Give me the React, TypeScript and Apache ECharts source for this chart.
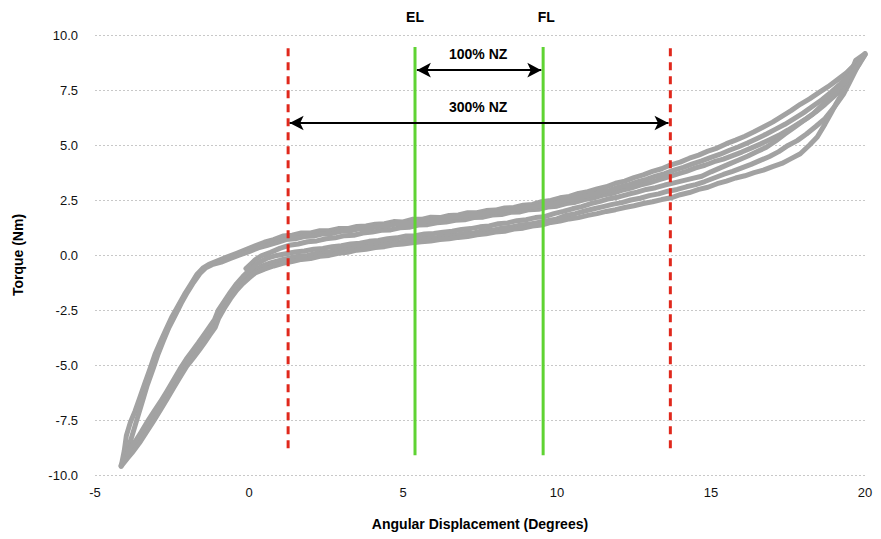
import React, { useEffect, useRef } from "react";
import * as echarts from "echarts";

const FONT = "Liberation Sans, Arial, Helvetica, sans-serif";

const xTicks = { min: -5, max: 20, interval: 5 };
const yTicks = { min: -10, max: 10, interval: 2.5 };

const elX = 5.39;
const flX = 9.55;
const nz300Left = 1.27;
const nz300Right = 13.68;

// Loading branches (moving right)
const up1: number[][] = [
  [-4.15,-9.6],[-4.05,-8.9],[-3.98,-8.2],[-3.85,-7.6],[-3.7,-7.1],[-3.55,-6.5],[-3.4,-5.9],[-3.22,-5.2],[-3.05,-4.5],[-2.88,-3.95],[-2.7,-3.4],[-2.5,-2.8],[-2.3,-2.3],[-2.1,-1.8],[-1.9,-1.35],[-1.7,-0.9],[-1.5,-0.6],[-1.3,-0.42],[-1.0,-0.25],[-0.7,-0.08],[-0.4,0.08],[-0.1,0.25],[0.2,0.42],[0.5,0.58],[0.8,0.7],[1.1,0.86],[1.4,0.9],[1.7,1.0],[2.0,1.0],[2.3,1.1],[2.6,1.1],[2.9,1.2],[3.2,1.2],[3.5,1.3],[3.8,1.32],[4.1,1.4],[4.4,1.42],[4.7,1.52],[5.0,1.5],[5.3,1.62],[5.6,1.62],[5.9,1.72],[6.2,1.7],[6.5,1.8],[6.8,1.82],[7.1,1.92],[7.4,1.92],[7.7,2.02],[8.0,2.04],[8.3,2.14],[8.6,2.16],[8.9,2.26],[9.2,2.3],[9.5,2.42],[9.8,2.48],[10.1,2.6],[10.4,2.66],[10.7,2.8],[11.0,2.88],[11.3,3.0],[11.6,3.1],[11.9,3.26],[12.2,3.36],[12.5,3.52],[12.8,3.64],[13.1,3.8],[13.4,3.92],[13.7,4.1],[14.0,4.22],[14.3,4.4],[14.6,4.54],[14.9,4.72],[15.2,4.86],[15.5,5.06],[15.8,5.22],[16.1,5.4],[16.4,5.6],[16.7,5.82],[17.0,6.04],[17.3,6.3],[17.6,6.56],[17.9,6.85],[18.2,7.1],[18.5,7.38],[18.8,7.65],[19.1,7.96],[19.4,8.28],[19.7,8.7],[20.0,9.15]
];

const up2: number[][] = [
  [-3.95,-9.05],[-3.88,-8.6],[-3.75,-8.0],[-3.6,-7.3],[-3.45,-6.6],[-3.3,-5.9],[-3.12,-5.2],[-2.95,-4.5],[-2.78,-3.9],[-2.6,-3.3],[-2.4,-2.75],[-2.2,-2.2],[-2.0,-1.7],[-1.8,-1.25],[-1.6,-0.85],[-1.4,-0.58],[-1.2,-0.44],[-0.9,-0.32],[-0.6,-0.16],[-0.3,0.0],[0.0,0.15],[0.3,0.32],[0.6,0.44],[0.9,0.56],[1.2,0.7],[1.5,0.74],[1.8,0.84],[2.1,0.86],[2.4,0.96],[2.7,0.98],[3.0,1.08],[3.3,1.1],[3.6,1.2],[3.9,1.2],[4.2,1.3],[4.5,1.32],[4.8,1.42],[5.1,1.42],[5.4,1.5],[5.7,1.52],[6.0,1.62],[6.3,1.62],[6.6,1.72],[6.9,1.74],[7.2,1.84],[7.5,1.84],[7.8,1.94],[8.1,1.96],[8.4,2.06],[8.7,2.08],[9.0,2.18],[9.3,2.2],[9.6,2.3],[9.9,2.34],[10.2,2.46],[10.5,2.52],[10.8,2.64],[11.1,2.72],[11.4,2.84],[11.7,2.94],[12.0,3.08],[12.3,3.18],[12.6,3.32],[12.9,3.44],[13.2,3.58],[13.5,3.7],[13.8,3.86],[14.1,3.98],[14.4,4.14],[14.7,4.28],[15.0,4.44],[15.3,4.58],[15.6,4.76],[15.9,4.92],[16.2,5.1],[16.5,5.3],[16.8,5.5],[17.1,5.72],[17.4,5.94],[17.7,6.2],[18.0,6.46],[18.3,6.76],[18.6,7.06],[18.9,7.4],[19.2,7.78],[19.5,8.22],[19.75,8.66],[19.95,9.05]
];

const up3: number[][] = [
  [-0.1,-0.62],[0.05,-0.42],[0.2,-0.22],[0.4,-0.04],[0.7,0.12],[1.0,0.3],[1.3,0.44],[1.6,0.5],[1.9,0.6],[2.2,0.64],[2.5,0.74],[2.8,0.78],[3.1,0.88],[3.4,0.9],[3.7,1.0],[4.0,1.04],[4.3,1.12],[4.6,1.14],[4.9,1.24],[5.2,1.26],[5.5,1.36],[5.8,1.38],[6.1,1.46],[6.4,1.5],[6.7,1.58],[7.0,1.6],[7.3,1.7],[7.6,1.72],[7.9,1.82],[8.2,1.84],[8.5,1.94],[8.8,1.96],[9.1,2.06],[9.4,2.08],[9.7,2.18],[10.0,2.22],[10.3,2.34],[10.6,2.4],[10.9,2.52],[11.2,2.6],[11.5,2.72],[11.8,2.8],[12.1,2.94],[12.4,3.04],[12.7,3.18],[13.0,3.28],[13.3,3.42],[13.6,3.54],[13.9,3.68],[14.2,3.8],[14.5,3.96],[14.8,4.08],[15.1,4.24],[15.4,4.36],[15.7,4.52],[16.0,4.68],[16.3,4.86],[16.6,5.04],[16.9,5.24],[17.2,5.44],[17.5,5.68],[17.8,5.94],[18.1,6.2],[18.4,6.5],[18.7,6.84],[19.0,7.22],[19.3,7.66],[19.55,8.14],[19.8,8.64],[20.0,9.1]
];

// Unloading branches (moving left)
const down1: number[][] = [
  [20.0,9.15],[19.85,9.0],[19.7,8.85],[19.6,8.5],[19.5,8.2],[19.35,7.7],[19.2,7.2],[19.05,6.85],[18.9,6.45],[18.7,5.95],[18.45,5.36],[18.2,5.0],[17.9,4.6],[17.6,4.38],[17.3,4.16],[17.0,4.02],[16.7,3.86],[16.4,3.74],[16.1,3.6],[15.8,3.5],[15.5,3.36],[15.2,3.24],[14.9,3.08],[14.6,2.98],[14.3,2.84],[14.0,2.74],[13.7,2.6],[13.4,2.52],[13.1,2.42],[12.8,2.34],[12.5,2.24],[12.2,2.16],[11.9,2.06],[11.6,1.98],[11.3,1.88],[11.0,1.8],[10.7,1.7],[10.4,1.64],[10.1,1.54],[9.8,1.48],[9.5,1.36],[9.2,1.32],[8.9,1.22],[8.6,1.18],[8.3,1.08],[8.0,1.04],[7.7,0.96],[7.4,0.92],[7.1,0.84],[6.8,0.8],[6.5,0.74],[6.2,0.7],[5.9,0.64],[5.6,0.6],[5.3,0.56],[5.0,0.5],[4.7,0.46],[4.4,0.38],[4.1,0.34],[3.8,0.26],[3.5,0.22],[3.2,0.12],[2.9,0.08],[2.6,-0.02],[2.3,-0.06],[2.0,-0.16],[1.7,-0.2],[1.4,-0.3],[1.1,-0.38],[0.8,-0.5],[0.5,-0.64],[0.2,-0.82],[0.0,-1.05],[-0.2,-1.3],[-0.4,-1.6],[-0.6,-1.98],[-0.8,-2.42],[-0.98,-2.86],[-1.1,-3.3],[-1.28,-3.65],[-1.45,-4.0],[-1.63,-4.35],[-1.82,-4.7],[-2.02,-5.05],[-2.24,-5.55],[-2.45,-6.05],[-2.66,-6.55],[-2.88,-7.05],[-3.1,-7.55],[-3.33,-8.05],[-3.56,-8.55],[-3.8,-9.0],[-3.95,-9.25],[-4.15,-9.6]
];

const down2: number[][] = [
  [19.95,9.05],[19.75,8.6],[19.5,8.15],[19.3,7.8],[19.0,7.35],[18.6,6.8],[18.3,6.4],[18.0,6.1],[17.7,5.8],[17.4,5.5],[17.1,5.18],[16.8,4.9],[16.5,4.7],[16.2,4.5],[15.9,4.32],[15.6,4.14],[15.3,3.96],[15.0,3.78],[14.7,3.58],[14.4,3.48],[14.1,3.38],[13.8,3.28],[13.5,3.18],[13.2,3.06],[12.9,2.98],[12.6,2.86],[12.3,2.76],[12.0,2.64],[11.7,2.56],[11.4,2.44],[11.1,2.34],[10.8,2.2],[10.5,2.1],[10.2,1.98],[9.9,1.88],[9.6,1.74],[9.3,1.7],[9.0,1.6],[8.7,1.56],[8.4,1.46],[8.1,1.42],[7.8,1.32],[7.5,1.28],[7.2,1.2],[6.9,1.16],[6.6,1.08],[6.3,1.04],[6.0,0.98],[5.7,0.96],[5.4,0.88],[5.1,0.86],[4.8,0.78],[4.5,0.74],[4.2,0.66],[3.9,0.62],[3.6,0.54],[3.3,0.5],[3.0,0.42],[2.7,0.38],[2.4,0.3],[2.1,0.26],[1.8,0.18],[1.5,0.14],[1.2,0.06],[0.9,-0.02],[0.6,-0.14],[0.3,-0.36],[0.0,-0.7],[-0.2,-0.98],[-0.4,-1.3],[-0.6,-1.68],[-0.8,-2.1],[-1.0,-2.52],[-1.12,-2.94],[-1.3,-3.3],[-1.47,-3.64],[-1.65,-4.0],[-1.84,-4.36],[-2.04,-4.74],[-2.25,-5.2],[-2.46,-5.7],[-2.67,-6.2],[-2.88,-6.68],[-3.1,-7.14],[-3.32,-7.62],[-3.5,-8.05],[-3.67,-8.42],[-3.85,-8.75],[-3.95,-9.05]
];

const down3: number[][] = [
  [20.0,9.1],[19.85,8.8],[19.7,8.4],[19.5,7.85],[19.3,7.3],[19.0,6.72],[18.7,6.2],[18.4,5.84],[18.1,5.5],[17.8,5.2],[17.5,4.98],[17.2,4.7],[16.9,4.48],[16.6,4.3],[16.3,4.12],[16.0,3.96],[15.7,3.8],[15.4,3.66],[15.1,3.5],[14.8,3.34],[14.5,3.2],[14.2,3.1],[13.9,2.98],[13.6,2.9],[13.3,2.78],[13.0,2.7],[12.7,2.58],[12.4,2.5],[12.1,2.38],[11.8,2.3],[11.5,2.2],[11.2,2.1],[10.9,2.0],[10.6,1.88],[10.3,1.8],[10.0,1.64],[9.7,1.56],[9.4,1.48],[9.1,1.4],[8.8,1.36],[8.5,1.26],[8.2,1.22],[7.9,1.12],[7.6,1.1],[7.3,1.0],[7.0,0.98],[6.7,0.9],[6.4,0.88],[6.1,0.8],[5.8,0.78],[5.5,0.72],[5.2,0.68],[4.9,0.6],[4.6,0.58],[4.3,0.5],[4.0,0.46],[3.7,0.38],[3.4,0.34],[3.1,0.26],[2.8,0.2],[2.5,0.12],[2.2,0.08],[1.9,-0.02],[1.6,-0.06],[1.3,-0.14],[1.0,-0.24],[0.7,-0.36],[0.4,-0.52],[0.15,-0.7],[-0.05,-0.88],[-0.25,-1.14],[-0.45,-1.46],[-0.65,-1.86],[-0.85,-2.3],[-1.02,-2.76],[-1.15,-3.2],[-1.32,-3.56],[-1.5,-3.92],[-1.69,-4.26],[-1.88,-4.62],[-2.08,-4.98],[-2.29,-5.46],[-2.5,-5.96],[-2.71,-6.44],[-2.93,-6.94],[-3.15,-7.42],[-3.38,-7.92],[-3.6,-8.42],[-3.85,-8.9],[-4.0,-9.2],[-4.15,-9.55]
];

const branches = [up3, down3, up1, down1, up2, down2];

const redLineY = [9.4, -9.0];
const greenLineY = [9.45, -9.1];

const arrow100Y = 8.4;
const arrow300Y = 6.0;
const arrow100X = [5.45, 9.49];
const arrow300X = [1.32, 13.62];

const textLabels = [
  { name: "EL", value: [5.39, 10.82] },
  { name: "FL", value: [9.65, 10.82] },
  { name: "100% NZ", value: [7.44, 9.14] },
  { name: "300% NZ", value: [7.44, 6.73] },
];

const GRAY = "#a2a2a2";
const RED = "#e0281c";
const GREEN = "#5fd333";

export default function App() {
  const ref = useRef<HTMLDivElement>(null);

  useEffect(() => {
    if (!ref.current) return;
    const chart = echarts.init(ref.current, undefined, { renderer: "svg" });

    const grayCurves = branches.map((d) => ({
      type: "line",
      data: d,
      showSymbol: false,
      symbol: "none",
      smooth: false,
      silent: true,
      z: 2,
      lineStyle: { color: GRAY, width: 5, join: "round", cap: "round" },
    }));

    const vLine = (x: number, ys: number[], color: string, dashed: boolean) => ({
      type: "line",
      data: [[x, ys[0]], [x, ys[1]]],
      showSymbol: false,
      symbol: "none",
      silent: true,
      z: 3,
      lineStyle: { color, width: 3, type: dashed ? [8, 6] : "solid", cap: "butt" },
    });

    chart.setOption({
      animation: false,
      textStyle: { fontFamily: FONT },
      grid: { left: 95, right: 16, top: 35, bottom: 64, containLabel: false },
      xAxis: {
        type: "value",
        min: xTicks.min,
        max: xTicks.max,
        interval: xTicks.interval,
        name: "Angular Displacement (Degrees)",
        nameLocation: "middle",
        nameGap: 42,
        nameTextStyle: { fontFamily: FONT, fontSize: 14, fontWeight: "bold", color: "#000" },
        axisLine: { show: false, onZero: false },
        axisTick: { show: false },
        splitLine: { show: false },
        axisLabel: { fontFamily: FONT, fontSize: 13, color: "#111", margin: 11 },
      },
      yAxis: {
        type: "value",
        min: yTicks.min,
        max: yTicks.max,
        interval: yTicks.interval,
        name: "Torque (Nm)",
        nameLocation: "middle",
        nameGap: 70,
        nameRotate: 90,
        nameTextStyle: { fontFamily: FONT, fontSize: 14, fontWeight: "bold", color: "#000" },
        axisLine: { show: false, onZero: false },
        axisTick: { show: false },
        splitLine: { show: true, lineStyle: { color: "#c8c8c8", width: 1, type: [2, 2] } },
        axisLabel: {
          fontFamily: FONT,
          fontSize: 13,
          color: "#111",
          margin: 17,
          formatter: (v: number) => v.toFixed(1),
        },
      },
      series: [
        ...grayCurves,
        vLine(nz300Left, redLineY, RED, true),
        vLine(nz300Right, redLineY, RED, true),
        vLine(elX, greenLineY, GREEN, false),
        vLine(flX, greenLineY, GREEN, false),
        {
          type: "line",
          data: [],
          silent: true,
          z: 4,
          markLine: {
            silent: true,
            animation: false,
            symbol: ["arrow", "arrow"],
            symbolSize: [11, 14],
            label: { show: false },
            lineStyle: { color: "#000", width: 2, type: "solid", opacity: 1 },
            emphasis: { disabled: true },
            data: [
              [{ coord: [arrow100X[0], arrow100Y] }, { coord: [arrow100X[1], arrow100Y] }],
              [{ coord: [arrow300X[0], arrow300Y] }, { coord: [arrow300X[1], arrow300Y] }],
            ],
          },
        },
        {
          type: "scatter",
          data: textLabels,
          clip: false,
          silent: true,
          symbolSize: 0,
          z: 5,
          itemStyle: { color: "#000", opacity: 1 },
          label: {
            show: true,
            position: "inside",
            formatter: "{b}",
            fontFamily: FONT,
            fontSize: 14,
            fontWeight: "bold",
            color: "#000",
            opacity: 1,
          },
        },
      ],
    });

    return () => chart.dispose();
  }, []);

  return (
    <div
      ref={ref}
      style={{ position: "fixed", left: 0, top: 0, width: 881, height: 539, background: "#fff" }}
    />
  );
}
